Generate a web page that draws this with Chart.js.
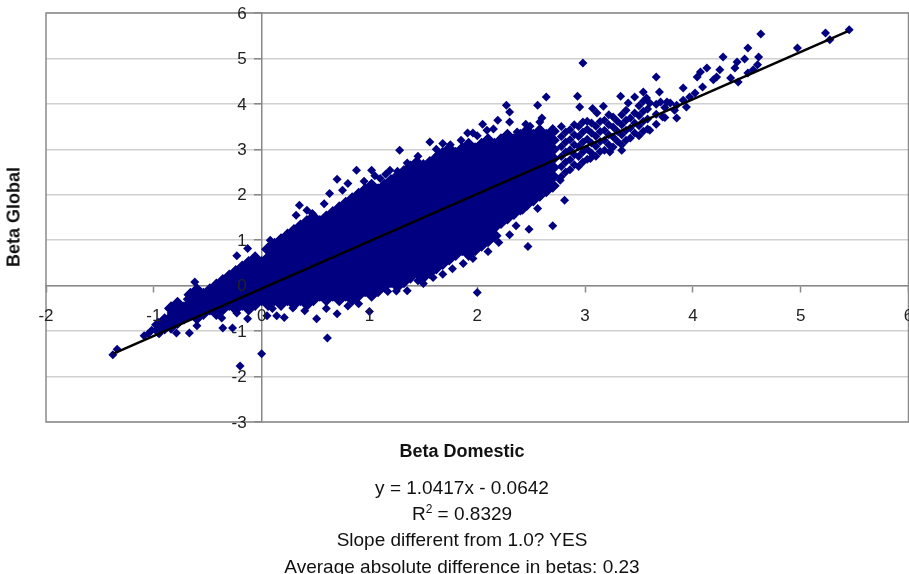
<!DOCTYPE html>
<html>
<head>
<meta charset="utf-8">
<script src="https://cdn.jsdelivr.net/npm/chart.js@4.4.0/dist/chart.umd.min.js"></script>
<style>
    body { margin: 0; background: #fff; overflow: hidden; }
    #wrap { position: relative; width: 909px; height: 574px; overflow: hidden; font-family: "Liberation Sans", Arial, sans-serif; color: #111; }
    #chart { position: absolute; left: 0; top: 0; }
    #yTitle { position: absolute; left: 14px; top: 217px; font-weight: bold; font-size: 18px; white-space: nowrap; transform: translate(-50%, -50%) rotate(-90deg); }
    #xTitle { position: absolute; left: 462px; top: 451px; font-weight: bold; font-size: 18px; white-space: nowrap; transform: translate(-50%, -50%); }
    #notes { position: absolute; left: 462px; top: 475px; transform: translateX(-50%); text-align: center; font-size: 19px; line-height: 26.2px; white-space: nowrap; }
    #notes sup { font-size: 12px; line-height: 0; }
</style>
</head>
<body>
<div id="wrap">
    <canvas id="chart" width="916" height="574"></canvas>
    <div id="yTitle">Beta Global</div>
    <div id="xTitle">Beta Domestic</div>
    <div id="notes">
        y = 1.0417x - 0.0642<br>
        R<sup>2</sup> = 0.8329<br>
        Slope different from 1.0? YES<br>
        Average absolute difference in betas: 0.23
    </div>
</div>
<script>
// solid core of the cloud, read column by column (domestic beta -> global betas)
const coreX = [-0.96, -0.90, -0.84, -0.78, -0.72, -0.66, -0.60, -0.54, -0.48, -0.42, -0.36,
    -0.30, -0.24, -0.18, -0.12, -0.06, 0.00, 0.06, 0.12, 0.18, 0.24, 0.30, 0.36, 0.42, 0.48, 0.54,
    0.60, 0.66, 0.72, 0.78, 0.84, 0.90, 0.96, 1.02, 1.08, 1.14, 1.20, 1.26, 1.32, 1.38, 1.44, 1.50,
    1.56, 1.62, 1.68, 1.74, 1.80, 1.86, 1.92, 1.98, 2.04, 2.10, 2.16, 2.22, 2.28, 2.34, 2.40, 2.46,
    2.52, 2.58, 2.64, 2.70];
const coreY = [
    [-0.98, -0.86], [-0.92, -0.76], [-0.9, -0.7, -0.5], [-0.8, -0.6, -0.4], [-0.7, -0.5],
    [-0.6, -0.4, -0.2], [-0.7, -0.5, -0.3, -0.1], [-0.6, -0.4, -0.2], [-0.5, -0.3, -0.1],
    [-0.6, -0.4, -0.2, 0.0], [-0.5, -0.3, -0.1, 0.1],
    [-0.4, -0.2, 0, 0.2],
    [-0.5, -0.3, -0.1, 0.1, 0.3],
    [-0.4, -0.2, 0, 0.2, 0.4],
    [-0.5, -0.3, -0.1, 0.1, 0.3, 0.5],
    [-0.4, -0.2, 0, 0.2, 0.4, 0.6],
    [-0.3, -0.1, 0.1, 0.3, 0.5],
    [-0.4, -0.2, 0, 0.2, 0.4, 0.6, 0.8],
    [-0.3, -0.1, 0.1, 0.3, 0.5, 0.7, 0.9],
    [-0.4, -0.2, 0, 0.2, 0.4, 0.6, 0.8, 1.0],
    [-0.3, -0.1, 0.1, 0.3, 0.5, 0.7, 0.9, 1.1],
    [-0.4, -0.2, 0, 0.2, 0.4, 0.6, 0.8, 1.0, 1.2],
    [-0.3, -0.1, 0.1, 0.3, 0.5, 0.7, 0.9, 1.1, 1.3],
    [-0.4, -0.2, 0, 0.2, 0.4, 0.6, 0.8, 1.0, 1.2, 1.4],
    [-0.3, -0.1, 0.1, 0.3, 0.5, 0.7, 0.9, 1.1, 1.3, 1.5],
    [-0.2, 0, 0.2, 0.4, 0.6, 0.8, 1.0, 1.2, 1.4],
    [-0.3, -0.1, 0.1, 0.3, 0.5, 0.7, 0.9, 1.1, 1.3, 1.5],
    [-0.2, 0, 0.2, 0.4, 0.6, 0.8, 1.0, 1.2, 1.4, 1.6],
    [-0.3, -0.1, 0.1, 0.3, 0.5, 0.7, 0.9, 1.1, 1.3, 1.5, 1.7],
    [-0.2, 0, 0.2, 0.4, 0.6, 0.8, 1.0, 1.2, 1.4, 1.6, 1.8],
    [-0.3, -0.1, 0.1, 0.3, 0.5, 0.7, 0.9, 1.1, 1.3, 1.5, 1.7, 1.9],
    [-0.2, 0, 0.2, 0.4, 0.6, 0.8, 1.0, 1.2, 1.4, 1.6, 1.8, 2.0],
    [-0.1, 0.1, 0.3, 0.5, 0.7, 0.9, 1.1, 1.3, 1.5, 1.7, 1.9, 2.1],
    [-0.2, 0, 0.2, 0.4, 0.6, 0.8, 1.0, 1.2, 1.4, 1.6, 1.8, 2.0, 2.2],
    [-0.1, 0.1, 0.3, 0.5, 0.7, 0.9, 1.1, 1.3, 1.5, 1.7, 1.9, 2.1],
    [0, 0.2, 0.4, 0.6, 0.8, 1.0, 1.2, 1.4, 1.6, 1.8, 2.0, 2.2],
    [0.1, 0.3, 0.5, 0.7, 0.9, 1.1, 1.3, 1.5, 1.7, 1.9, 2.1, 2.3],
    [0, 0.2, 0.4, 0.6, 0.8, 1.0, 1.2, 1.4, 1.6, 1.8, 2.0, 2.2, 2.4],
    [0.1, 0.3, 0.5, 0.7, 0.9, 1.1, 1.3, 1.5, 1.7, 1.9, 2.1, 2.3, 2.5],
    [0.2, 0.4, 0.6, 0.8, 1.0, 1.2, 1.4, 1.6, 1.8, 2.0, 2.2, 2.4, 2.6],
    [0.3, 0.5, 0.7, 0.9, 1.1, 1.3, 1.5, 1.7, 1.9, 2.1, 2.3, 2.5, 2.7],
    [0.2, 0.4, 0.6, 0.8, 1.0, 1.2, 1.4, 1.6, 1.8, 2.0, 2.2, 2.4, 2.6],
    [0.3, 0.5, 0.7, 0.9, 1.1, 1.3, 1.5, 1.7, 1.9, 2.1, 2.3, 2.5, 2.7],
    [0.4, 0.6, 0.8, 1.0, 1.2, 1.4, 1.6, 1.8, 2.0, 2.2, 2.4, 2.6, 2.8],
    [0.5, 0.7, 0.9, 1.1, 1.3, 1.5, 1.7, 1.9, 2.1, 2.3, 2.5, 2.7, 2.9],
    [0.6, 0.8, 1.0, 1.2, 1.4, 1.6, 1.8, 2.0, 2.2, 2.4, 2.6, 2.8, 3.0],
    [0.7, 0.9, 1.1, 1.3, 1.5, 1.7, 1.9, 2.1, 2.3, 2.5, 2.7, 2.9],
    [0.8, 1.0, 1.2, 1.4, 1.6, 1.8, 2.0, 2.2, 2.4, 2.6, 2.8, 3.0],
    [0.7, 0.9, 1.1, 1.3, 1.5, 1.7, 1.9, 2.1, 2.3, 2.5, 2.7, 2.9, 3.1],
    [0.8, 1.0, 1.2, 1.4, 1.6, 1.8, 2.0, 2.2, 2.4, 2.6, 2.8, 3.0],
    [0.9, 1.1, 1.3, 1.5, 1.7, 1.9, 2.1, 2.3, 2.5, 2.7, 2.9, 3.1],
    [1.0, 1.2, 1.4, 1.6, 1.8, 2.0, 2.2, 2.4, 2.6, 2.8, 3.0, 3.2],
    [1.1, 1.3, 1.5, 1.7, 1.9, 2.1, 2.3, 2.5, 2.7, 2.9, 3.1],
    [1.4, 1.6, 1.8, 2.0, 2.2, 2.4, 2.6, 2.8, 3.0, 3.2],
    [1.5, 1.7, 1.9, 2.1, 2.3, 2.5, 2.7, 2.9, 3.1, 3.3],
    [1.6, 1.8, 2.0, 2.2, 2.4, 2.6, 2.8, 3.0, 3.2],
    [1.7, 1.9, 2.1, 2.3, 2.5, 2.7, 2.9, 3.1, 3.3],
    [1.8, 2.0, 2.2, 2.4, 2.6, 2.8, 3.0, 3.2, 3.4],
    [1.9, 2.1, 2.3, 2.5, 2.7, 2.9, 3.1, 3.3],
    [2.0, 2.2, 2.4, 2.6, 2.8, 3.0, 3.2, 3.4],
    [2.1, 2.3, 2.5, 2.7, 2.9, 3.1, 3.3],
    [2.2, 2.4, 2.6, 2.8, 3.0, 3.2, 3.4]
];

// thinner upper tail of the cloud
const tailX = [2.78, 2.82, 2.86, 2.90, 2.94, 2.98, 3.02, 3.06, 3.10, 3.14, 3.18, 3.22, 3.26, 3.30,
    3.34, 3.38, 3.42, 3.46, 3.50, 3.54, 3.58, 3.66, 3.74];
const tailY = [
    [2.40, 2.62, 2.84, 3.06, 3.28, 3.50], [2.50, 2.72, 2.94, 3.16, 3.38],
    [2.55, 2.77, 2.99, 3.21, 3.43], [2.66, 2.88, 3.10, 3.32, 3.54],
    [2.62, 2.84, 3.06, 3.28, 3.50], [2.72, 2.94, 3.16, 3.38, 3.60],
    [2.78, 3.00, 3.22, 3.44, 3.62], [2.92, 3.14, 3.36, 3.58],
    [2.85, 3.07, 3.29, 3.51], [2.95, 3.17, 3.39, 3.61],
    [2.98, 3.20, 3.42, 3.64], [3.10, 3.32, 3.54, 3.76],
    [3.05, 3.27, 3.49, 3.71], [3.18, 3.40, 3.62],
    [3.10, 3.32, 3.54, 3.76], [3.20, 3.42, 3.64, 3.86],
    [3.25, 3.47, 3.69], [3.36, 3.58, 3.80],
    [3.30, 3.52, 3.74, 3.96], [3.40, 3.62, 3.84, 4.06],
    [3.45, 3.67, 3.89], [3.55, 3.77, 3.99], [3.70, 3.92]
];

// scattered firms around the edges of the cloud [domestic, global]
const edgeBetas = [
    [-1.38, -1.52], [-1.34, -1.40], [-1.09, -1.10], [-1.05, -1.05], [-1.02, -0.98], [-0.95, -1.06],
    [-0.79, -1.04], [-0.67, -1.04], [-0.60, -0.88], [-0.84, -0.60], [-0.85, -0.72], [-0.76, -0.73],
    [-0.69, -0.30], [-0.62, 0.08], [-0.48, -0.11], [-0.36, -0.29], [-0.33, -0.04], [-0.37, -0.71],
    [-0.36, -0.93], [-0.27, -0.93], [-0.20, -1.77], [0.00, -1.50], [-0.13, -0.73], [-0.23, -0.60],
    [0.05, -0.66], [0.14, -0.66], [0.21, -0.70], [0.51, -0.73], [0.61, -1.15], [0.70, -0.62],
    [1.00, -0.57], [1.17, -0.13], [1.35, -0.11], [1.45, 0.11], [1.59, 0.18], [0.10, -0.50],
    [0.29, -0.49], [-0.23, 0.66], [-0.13, 0.82], [-0.13, 0.51], [-0.22, 0.29], [0.08, 1.00],
    [0.35, 1.77], [0.32, 1.55], [0.42, 1.66], [0.47, 1.59], [0.40, -0.55], [0.60, -0.50],
    [0.80, -0.45], [0.90, -0.40], [1.25, -0.12], [1.50, 0.05], [1.68, 0.25], [1.77, 0.37],
    [1.87, 0.49], [1.96, 0.60], [1.77, 0.82], [2.00, -0.15], [2.10, 0.75], [2.20, 0.95],
    [2.30, 1.12], [2.36, 1.32], [2.42, 1.66], [2.47, 0.86], [2.48, 1.24], [2.56, 1.70],
    [2.67, 2.14], [2.70, 1.32], [2.77, 2.32], [2.81, 1.88], [2.66, 2.65], [3.05, 2.80],
    [3.23, 2.94], [3.34, 2.98], [3.60, 3.42],
    [0.58, 1.80], [0.63, 2.03], [0.70, 2.34], [0.75, 2.10], [0.80, 2.25], [0.88, 2.54],
    [0.95, 2.30], [1.02, 2.54], [1.05, 2.42], [1.10, 2.36], [1.15, 2.45], [1.19, 2.54],
    [1.26, 2.52], [1.28, 2.98], [1.35, 2.70], [1.45, 2.85], [1.50, 2.69], [1.56, 3.16],
    [1.62, 3.00], [1.68, 3.13], [1.75, 3.10], [1.85, 3.20], [1.91, 3.36], [1.96, 3.36],
    [2.00, 3.30], [2.09, 3.42], [2.05, 3.55], [2.15, 3.45], [2.19, 3.64], [2.27, 3.97],
    [2.30, 3.82], [2.30, 3.60], [2.37, 3.38], [2.45, 3.55], [2.49, 3.51], [2.56, 3.97],
    [2.58, 3.60], [2.60, 3.69], [2.64, 4.15], [2.93, 4.17], [2.95, 3.93], [2.98, 4.90],
    [3.07, 3.90], [3.17, 3.95], [3.11, 3.80], [3.33, 4.17], [3.46, 4.15], [3.40, 4.02],
    [3.54, 4.26], [3.57, 4.13], [3.60, 4.02], [3.66, 4.59], [3.69, 4.26], [3.70, 4.04],
    [3.76, 4.04], [3.79, 4.02], [3.85, 3.97], [3.83, 3.86], [3.91, 4.08], [3.94, 3.93],
    [3.97, 4.15], [4.02, 4.24], [3.91, 4.35], [4.09, 4.37], [3.72, 3.71], [3.85, 3.69],
    [4.04, 4.59], [4.07, 4.70], [4.13, 4.79], [4.19, 4.53], [4.22, 4.59], [4.25, 4.75],
    [4.28, 5.03], [4.35, 4.57], [4.39, 4.79], [4.41, 4.92], [4.42, 4.48], [4.48, 4.99],
    [4.51, 5.23], [4.51, 4.68], [4.56, 4.75], [4.60, 4.86], [4.61, 5.03], [4.63, 5.54],
    [4.97, 5.23], [5.23, 5.56], [5.27, 5.41], [5.45, 5.63]
];

// fitted line end points as drawn
const trendX = [-1.38, 5.44];
const trendY = [-1.50, 5.60];

const xTicks = [-2, -1, 0, 1, 2, 3, 4, 5, 6];
const yTicks = [-3, -2, -1, 0, 1, 2, 3, 4, 5, 6];

const corePoints = [];
coreX.forEach((x, i) => coreY[i].forEach(y => corePoints.push({ x, y })));
const edgePoints = [];
tailX.forEach((x, i) => tailY[i].forEach(y => edgePoints.push({ x, y })));
edgeBetas.forEach(([x, y]) => edgePoints.push({ x, y }));

const fontFamily = '"Liberation Sans", Arial, sans-serif';
const tickFont = { family: fontFamily, size: 17 };
const navy = '#000080';

const plotFrame = {
    id: 'plotFrame',
    beforeDatasetsDraw(chart) {
        const { ctx, chartArea: a } = chart;
        ctx.save();
        ctx.strokeStyle = '#8a8a8a';
        ctx.lineWidth = 1.5;
        ctx.strokeRect(a.left, a.top, a.right - a.left, a.bottom - a.top);
        ctx.restore();
    }
};

// y labels sit left of the axis that crosses at x = 0
const yAxisLabels = {
    id: 'yAxisLabels',
    afterDatasetsDraw(chart) {
        const { ctx, scales: { x, y } } = chart;
        const right = x.getPixelForValue(0) - 15;
        ctx.save();
        ctx.font = '17px ' + fontFamily;
        ctx.fillStyle = '#222';
        ctx.textAlign = 'right';
        ctx.textBaseline = 'middle';
        yTicks.forEach(v => ctx.fillText(String(v), right, y.getPixelForValue(v) + 1));
        ctx.restore();
    }
};

new Chart(document.getElementById('chart'), {
    type: 'scatter',
    data: {
        datasets: [{
            label: 'Trend',
            type: 'line',
            data: trendX.map((x, i) => ({ x, y: trendY[i] })),
            borderColor: '#000',
            borderWidth: 2.5,
            pointRadius: 0,
            order: 0
        }, {
            label: 'Edge',
            data: edgePoints,
            pointStyle: 'rectRot',
            pointRadius: 4.5,
            borderWidth: 0,
            backgroundColor: navy,
            order: 1
        }, {
            label: 'Core',
            data: corePoints,
            pointStyle: 'rectRot',
            pointRadius: 6,
            borderWidth: 1.5,
            backgroundColor: navy,
            borderColor: navy,
            order: 2
        }]
    },
    options: {
        responsive: false,
        animation: false,
        events: [],
        layout: { padding: { left: 46, top: 13, right: 0, bottom: 152 } },
        plugins: { legend: { display: false }, tooltip: { enabled: false } },
        scales: {
            x: {
                type: 'linear',
                position: { y: 0 },
                min: -2,
                max: 6,
                afterBuildTicks: s => { s.ticks = xTicks.map(v => ({ value: v })); },
                afterFit: s => { s.paddingLeft = 0; s.paddingRight = 0; },
                ticks: { font: tickFont, color: '#222', padding: 14, maxRotation: 0, autoSkip: false, z: 1 },
                grid: { drawOnChartArea: false, tickLength: 6, tickColor: '#888', tickWidth: 1.5 },
                border: { color: '#888', width: 1.5 }
            },
            y: {
                type: 'linear',
                position: { x: 0 },
                min: -3,
                max: 6,
                afterBuildTicks: s => { s.ticks = yTicks.map(v => ({ value: v })); },
                afterFit: s => { s.paddingTop = 0; s.paddingBottom = 0; },
                ticks: { display: false },
                grid: { color: '#d0d0d0', lineWidth: 1.5, tickLength: 7, tickColor: '#888', tickWidth: 1.5 },
                border: { color: '#888', width: 1.5 }
            }
        }
    },
    plugins: [plotFrame, yAxisLabels]
});
</script>
</body>
</html>
